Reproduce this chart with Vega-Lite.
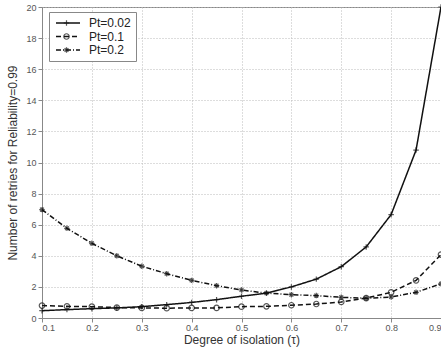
{
  "$schema": "https://vega.github.io/schema/vega-lite/v6.json",
  "width": 399,
  "height": 311,
  "autosize": {"type": "none"},
  "padding": {"left": 42, "top": 7, "right": 0, "bottom": 36},
  "background": "white",
  "config": {
    "view": {"stroke": "#888", "strokeWidth": 1},
    "font": "Liberation Sans",
    "axis": {
      "labelFont": "Liberation Sans",
      "titleFont": "Liberation Sans",
      "labelColor": "#555",
      "titleColor": "#333",
      "labelFontSize": 9,
      "titleFontSize": 12,
      "titleFontWeight": "normal",
      "domainColor": "#888",
      "tickColor": "#888",
      "gridColor": "#bbb",
      "gridDash": [1, 2],
      "gridWidth": 1
    }
  },
  "data": {
    "values": [
      {"tau": 0.1, "series": "Pt=0.02", "n": 0.47},
      {"tau": 0.15, "series": "Pt=0.02", "n": 0.54},
      {"tau": 0.2, "series": "Pt=0.02", "n": 0.6},
      {"tau": 0.25, "series": "Pt=0.02", "n": 0.65},
      {"tau": 0.3, "series": "Pt=0.02", "n": 0.73},
      {"tau": 0.35, "series": "Pt=0.02", "n": 0.86},
      {"tau": 0.4, "series": "Pt=0.02", "n": 1.0},
      {"tau": 0.45, "series": "Pt=0.02", "n": 1.18},
      {"tau": 0.5, "series": "Pt=0.02", "n": 1.4},
      {"tau": 0.55, "series": "Pt=0.02", "n": 1.6},
      {"tau": 0.6, "series": "Pt=0.02", "n": 2.0},
      {"tau": 0.65, "series": "Pt=0.02", "n": 2.5},
      {"tau": 0.7, "series": "Pt=0.02", "n": 3.3},
      {"tau": 0.75, "series": "Pt=0.02", "n": 4.57},
      {"tau": 0.8, "series": "Pt=0.02", "n": 6.65},
      {"tau": 0.85, "series": "Pt=0.02", "n": 10.8},
      {"tau": 0.9, "series": "Pt=0.02", "n": 20.0},
      {"tau": 0.1, "series": "Pt=0.1", "n": 0.8},
      {"tau": 0.15, "series": "Pt=0.1", "n": 0.75},
      {"tau": 0.2, "series": "Pt=0.1", "n": 0.73},
      {"tau": 0.25, "series": "Pt=0.1", "n": 0.67},
      {"tau": 0.3, "series": "Pt=0.1", "n": 0.65},
      {"tau": 0.35, "series": "Pt=0.1", "n": 0.63},
      {"tau": 0.4, "series": "Pt=0.1", "n": 0.65},
      {"tau": 0.45, "series": "Pt=0.1", "n": 0.65},
      {"tau": 0.5, "series": "Pt=0.1", "n": 0.73},
      {"tau": 0.55, "series": "Pt=0.1", "n": 0.75},
      {"tau": 0.6, "series": "Pt=0.1", "n": 0.82},
      {"tau": 0.65, "series": "Pt=0.1", "n": 0.9},
      {"tau": 0.7, "series": "Pt=0.1", "n": 1.03},
      {"tau": 0.75, "series": "Pt=0.1", "n": 1.28},
      {"tau": 0.8, "series": "Pt=0.1", "n": 1.65},
      {"tau": 0.85, "series": "Pt=0.1", "n": 2.42},
      {"tau": 0.9, "series": "Pt=0.1", "n": 4.08},
      {"tau": 0.1, "series": "Pt=0.2", "n": 6.97},
      {"tau": 0.15, "series": "Pt=0.2", "n": 5.77},
      {"tau": 0.2, "series": "Pt=0.2", "n": 4.8},
      {"tau": 0.25, "series": "Pt=0.2", "n": 4.0},
      {"tau": 0.3, "series": "Pt=0.2", "n": 3.33},
      {"tau": 0.35, "series": "Pt=0.2", "n": 2.85},
      {"tau": 0.4, "series": "Pt=0.2", "n": 2.42},
      {"tau": 0.45, "series": "Pt=0.2", "n": 2.08},
      {"tau": 0.5, "series": "Pt=0.2", "n": 1.8},
      {"tau": 0.55, "series": "Pt=0.2", "n": 1.6},
      {"tau": 0.6, "series": "Pt=0.2", "n": 1.5},
      {"tau": 0.65, "series": "Pt=0.2", "n": 1.44},
      {"tau": 0.7, "series": "Pt=0.2", "n": 1.33},
      {"tau": 0.75, "series": "Pt=0.2", "n": 1.27},
      {"tau": 0.8, "series": "Pt=0.2", "n": 1.35},
      {"tau": 0.85, "series": "Pt=0.2", "n": 1.65},
      {"tau": 0.9, "series": "Pt=0.2", "n": 2.2}
    ]
  },
  "encoding": {
    "x": {
      "field": "tau", "type": "quantitative",
      "scale": {"domain": [0.1, 0.9], "nice": false, "zero": false},
      "axis": {"values": [0.1, 0.2, 0.3, 0.4, 0.5, 0.6, 0.7, 0.8, 0.9], "format": ".1f", "title": "Degree of isolation (τ)", "tickSize": 4, "labelPadding": 1, "titlePadding": 2}
    },
    "y": {
      "field": "n", "type": "quantitative",
      "scale": {"domain": [0, 20], "nice": false},
      "axis": {"values": [0, 2, 4, 6, 8, 10, 12, 14, 16, 18, 20], "title": "Number of retries for Reliability=0.99", "tickSize": 4, "labelPadding": 2, "titlePadding": 6}
    }
  },
  "layer": [
    {
      "mark": {"type": "line", "color": "#111", "strokeWidth": 1.5},
      "encoding": {
        "strokeDash": {
          "field": "series", "type": "nominal",
          "scale": {"domain": ["Pt=0.02", "Pt=0.1", "Pt=0.2"], "range": [[1, 0], [5, 3], [5, 2, 1, 2]]},
          "legend": {
            "orient": "none", "legendX": 7, "legendY": 5, "title": null,
            "symbolType": "M-1,0H5", "symbolSize": 64, "symbolStrokeColor": "#111", "symbolStrokeWidth": 1.5,
            "labelFontSize": 12, "labelColor": "#222", "labelFont": "Liberation Sans",
            "rowPadding": 1.5, "labelOffset": 23,
            "strokeColor": "#888", "fillColor": "white", "padding": 5
          }
        }
      }
    },
    {
      "mark": {"type": "point", "filled": false, "color": "#111", "strokeWidth": 1.2, "size": 30},
      "encoding": {
        "shape": {
          "field": "series", "type": "nominal",
          "scale": {"domain": ["Pt=0.02", "Pt=0.1", "Pt=0.2"], "range": ["M-1,0H1M0,-1V1", "circle", "M-1,0H1M0,-1V1M-0.7,-0.7L0.7,0.7M-0.7,0.7L0.7,-0.7"]},
          "legend": {
            "orient": "none", "legendX": 16, "legendY": 7.5, "title": null,
            "symbolSize": 30, "symbolStrokeColor": "#111", "symbolStrokeWidth": 1.2, "symbolFillColor": "white",
            "labelExpr": "''", "labelFontSize": 1,
            "rowPadding": 2.5, "padding": 5, "strokeColor": null, "fillColor": null
          }
        }
      }
    }
  ],
  "resolve": {"legend": {"strokeDash": "independent", "shape": "independent"}}
}
